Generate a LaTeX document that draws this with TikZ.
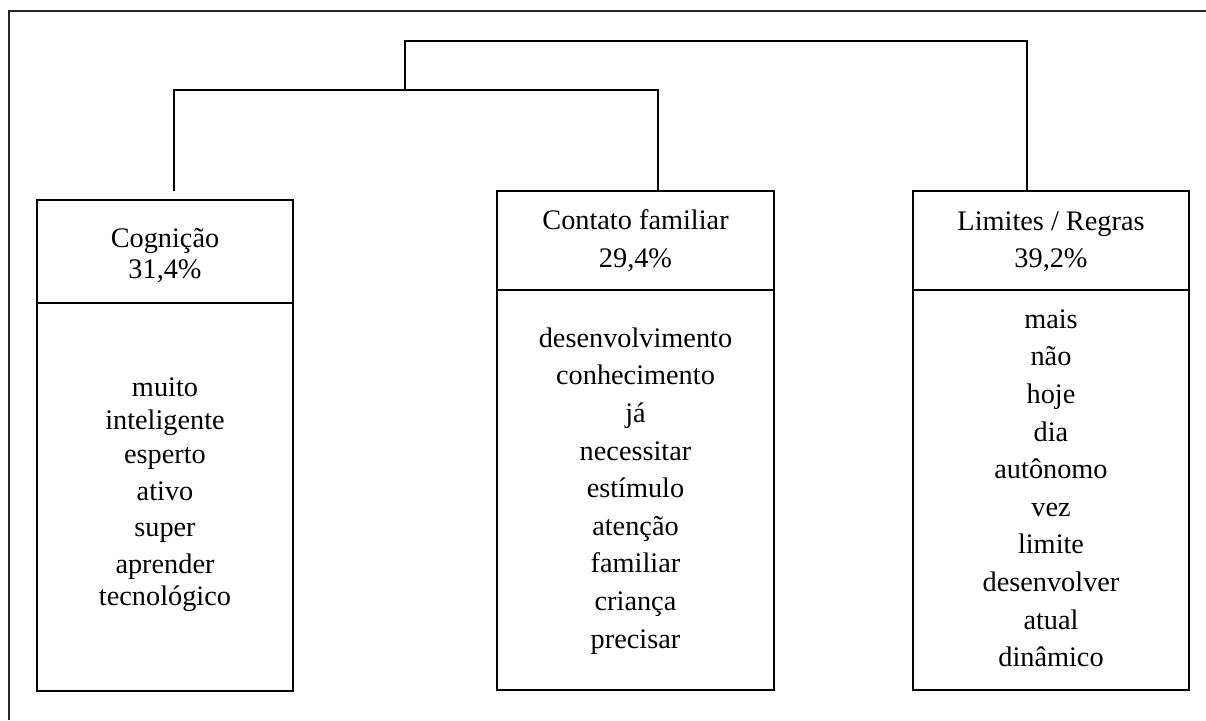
\documentclass[tikz,border=0pt]{standalone}
\usepackage{fontspec}
\setmainfont{Liberation Serif}
\begin{document}
\begin{tikzpicture}[x=1pt,y=-1pt]
\tikzset{
 boxframe/.style={draw=black, line width=2pt, inner sep=0pt, outer sep=0pt, rectangle},
 divline/.style={line width=2pt, black},
 wordtxt/.style={anchor=base, inner sep=0pt, font=\fontsize{28.3}{34}\selectfont, text=black},
 linkline/.style={line width=2pt, black},
 frameline/.style={line width=1.1pt, black!85}
}
\useasboundingbox (0,0) rectangle (1206,720);
% outer frame (cut at right and bottom)
\coordinate (fa) at (9,720);
\coordinate (fb) at (9,11);
\coordinate (fc) at (1206,11);
\draw[frameline] (fa) -- (fb) -- (fc);
% boxes
\node[boxframe, minimum width=256pt, minimum height=491pt] (b1) at (165,445.5) {};
\node[boxframe, minimum width=277pt, minimum height=499pt] (b2) at (635.5,440.5) {};
\node[boxframe, minimum width=276pt, minimum height=499pt] (b3) at (1051,440.5) {};
% header dividers
\coordinate (d1) at (0,303);
\coordinate (d2) at (0,290);
\draw[divline] (b1.west |- d1) -- (b1.east |- d1);
\draw[divline] (b2.west |- d2) -- (b2.east |- d2);
\draw[divline] (b3.west |- d2) -- (b3.east |- d2);
% connectors
\coordinate (t1) at (174,191);
\coordinate (t2) at (658,191);
\coordinate (t3) at (1027,191);
\coordinate (j1) at (405,90);
\coordinate (topy) at (0,41);
\draw[linkline] (t1) |- (t2 |- j1) -- (t2);
\draw[linkline] (j1) -- (j1 |- topy) -| (t3);
% headers
\node[wordtxt] (h1a) at (165,247) {Cognição};
\node[wordtxt] (h1b) at (165,278) {31,4\%};
\node[wordtxt] (h2a) at (635.5,229) {Contato familiar};
\node[wordtxt] (h2b) at (635.5,267) {29,4\%};
\node[wordtxt] (h3a) at (1051,230) {Limites / Regras};
\node[wordtxt] (h3b) at (1051,267.3) {39,2\%};
% word lists
\foreach \t/\y [count=\i] in {muito/396.7, inteligente/429.3, esperto/463.3, ativo/500, super/536.7, aprender/573.3, tecnológico/605}
  \node[wordtxt] (w1-\i) at (165,\y) {\t};
\foreach \t [count=\i from 0] in {desenvolvimento, conhecimento, já, necessitar, estímulo, atenção, familiar, criança, precisar}
  \node[wordtxt] (w2-\i) at (635.5,347.3+37.6*\i) {\t};
\foreach \t [count=\i from 0] in {mais, não, hoje, dia, autônomo, vez, limite, desenvolver, atual, dinâmico}
  \node[wordtxt] (w3-\i) at (1051,328.3+37.6*\i) {\t};
\end{tikzpicture}
\end{document}
